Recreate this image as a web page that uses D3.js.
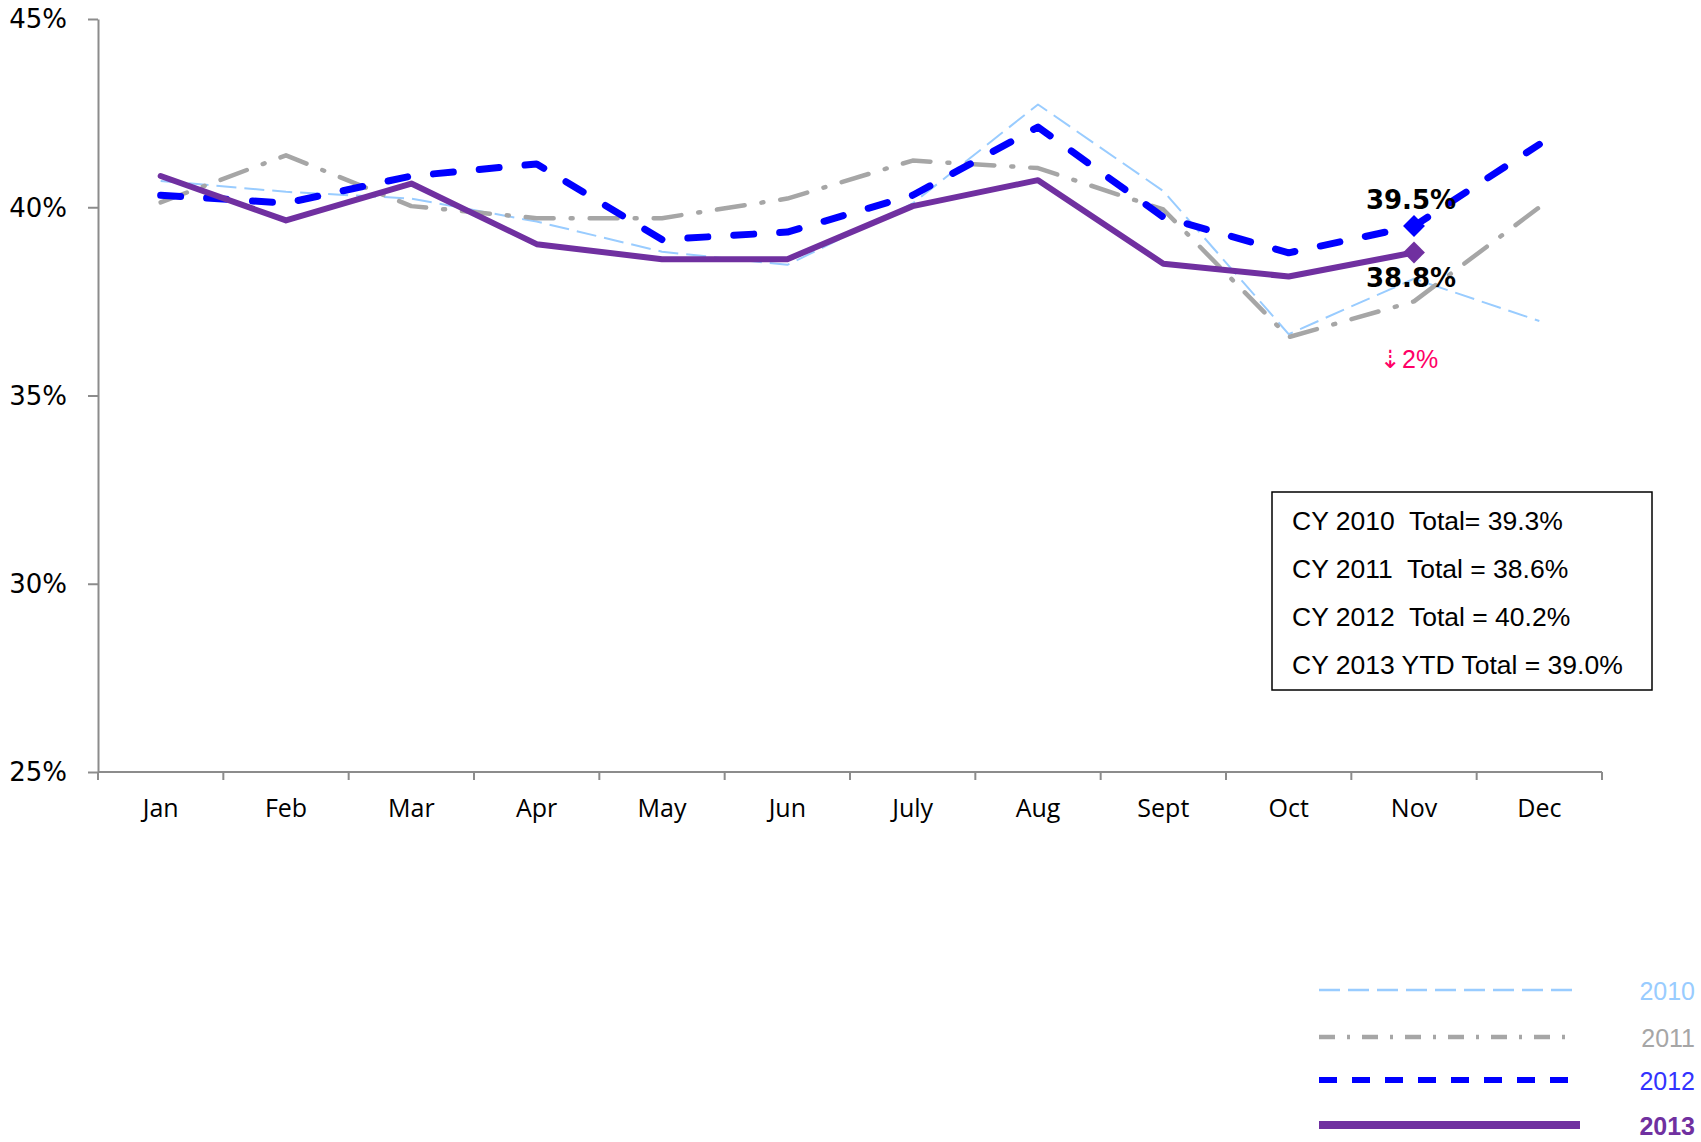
<!DOCTYPE html>
<html>
<head>
<meta charset="utf-8">
<script src="https://cdn.jsdelivr.net/npm/d3@7"></script>
<style>
  html, body { margin: 0; padding: 0; background: #fff; }
  svg { display: block; }
</style>
</head>
<body>
<div id="chart"></div>
<script>
// ---- data ----
var months = ["Jan", "Feb", "Mar", "Apr", "May", "Jun", "July", "Aug", "Sept", "Oct", "Nov", "Dec"];
var yTicks = [25, 30, 35, 40, 45];
var years = ["2010", "2011", "2012", "2013"];

var s2010 = [40.70, 40.41, 40.23, 39.62, 38.82, 38.47, 40.10, 42.73, 40.43, 36.63, 38.10, 36.98];
var s2011 = [40.13, 41.38, 40.03, 39.71, 39.71, 40.23, 41.24, 41.04, 39.94, 36.55, 37.50, 40.00];
var s2012 = [40.32, 40.11, 40.83, 41.15, 39.14, 39.34, 40.32, 42.13, 39.74, 38.79, 39.50, 41.67];
var s2013 = [40.83, 39.65, 40.63, 39.02, 38.62, 38.62, 40.03, 40.72, 38.50, 38.16, 38.80, null];

var totals = ["CY 2010  Total= 39.3%", "CY 2011  Total = 38.6%", "CY 2012  Total = 40.2%", "CY 2013 YTD Total = 39.0%"];
var lastMonth = "Nov";
var changeText = "2%";

// ---- parameters ----
var W = 1701, H = 1142;
var margin = { top: 19, left: 98, right: 99, bottom: 370 };
var plotW = W - margin.left - margin.right;
var plotH = H - margin.top - margin.bottom;

var styles = {
  "2010": { color: "#99CCFF", width: 2, dash: "20,8", cap: "butt", legendDash: "21,8", text: "#99CCFF", weight: "normal" },
  "2011": { color: "#A6A6A6", width: 4.5, dash: "28,17,2,17", cap: "round", legendDash: "16,12,3,12", text: "#A6A6A6", weight: "normal" },
  "2012": { color: "#0000FF", width: 7, dash: "20,26", cap: "round", legendDash: "18,15", text: "#3333FF", weight: "normal" },
  "2013": { color: "#7030A0", width: 6, dash: null, cap: "round", legendDash: null, text: "#7030A0", weight: "bold" }
};
var seriesData = { "2010": s2010, "2011": s2011, "2012": s2012, "2013": s2013 };

var svg = d3.select("#chart").append("svg")
  .attr("width", W)
  .attr("height", H);

var g = svg.append("g")
  .attr("transform", "translate(" + margin.left + "," + margin.top + ")");

// ---- scales ----
var x = d3.scaleBand().domain(months).range([0, plotW]).paddingInner(0).paddingOuter(0);
var y = d3.scaleLinear().domain([25, 45]).range([plotH, 0]);
function cx(m) { return x(m) + x.bandwidth() / 2; }

// ---- axes ----
var axisColor = "#8C8C8C";

var yAxis = d3.axisLeft(y)
  .tickValues(yTicks)
  .tickSize(10)
  .tickSizeOuter(0)
  .tickPadding(21)
  .tickFormat(function(d) { return d + "%"; });

g.append("g")
  .attr("class", "axisY")
  .call(yAxis)
  .call(function(s) {
    s.select(".domain").attr("stroke", axisColor).attr("stroke-width", 2);
    s.selectAll(".tick line").attr("stroke", axisColor).attr("stroke-width", 2);
    s.selectAll(".tick text")
      .style("font-family", "'DejaVu Sans', sans-serif")
      .style("font-size", "26px")
      .attr("dy", "0.34em")
      .attr("fill", "#000");
  });

// x axis: labels centred in bands, ticks on band edges
var xAxis = d3.axisBottom(x).tickSize(0).tickPadding(0);
g.append("g")
  .attr("class", "axisX")
  .attr("transform", "translate(0," + plotH + ")")
  .call(xAxis)
  .call(function(s) {
    s.select(".domain").remove();
    s.selectAll(".tick text")
      .attr("y", 45)
      .attr("dy", 0)
      .style("font-family", "'Open Sans', sans-serif")
      .style("font-size", "25px")
      .attr("fill", "#000");
  });

g.append("line")
  .attr("x1", 0).attr("x2", plotW)
  .attr("y1", plotH).attr("y2", plotH)
  .attr("stroke", axisColor).attr("stroke-width", 2);

g.selectAll(".xtick")
  .data(months.concat(["end"]))
  .enter().append("line")
  .attr("class", "xtick")
  .attr("x1", function(d) { return d === "end" ? plotW : x(d); })
  .attr("x2", function(d) { return d === "end" ? plotW : x(d); })
  .attr("y1", plotH)
  .attr("y2", plotH + 8)
  .attr("stroke", axisColor)
  .attr("stroke-width", 2);

// ---- lines ----
var line = d3.line()
  .defined(function(d) { return d.v != null; })
  .x(function(d) { return cx(d.m); })
  .y(function(d) { return y(d.v); });

years.forEach(function(yr) {
  var st = styles[yr];
  var pts = months.map(function(m, i) { return { m: m, v: seriesData[yr][i] }; });
  g.append("path")
    .datum(pts)
    .attr("fill", "none")
    .attr("stroke", st.color)
    .attr("stroke-width", st.width)
    .attr("stroke-linecap", st.cap)
    .attr("stroke-linejoin", "round")
    .attr("stroke-dasharray", st.dash)
    .attr("d", line);
});

// ---- markers and labels at the last month ----
var iLast = months.indexOf(lastMonth);
var diamond = d3.symbol().type(d3.symbolSquare).size(240);

["2012", "2013"].forEach(function(yr) {
  g.append("path")
    .attr("d", diamond)
    .attr("fill", styles[yr].color)
    .attr("transform", "translate(" + cx(lastMonth) + "," + y(seriesData[yr][iLast]) + ") rotate(45)");
});

g.append("text")
  .attr("x", cx(lastMonth) - 3)
  .attr("y", y(s2012[iLast]) - 17)
  .attr("text-anchor", "middle")
  .style("font-family", "'DejaVu Sans', sans-serif")
  .style("font-weight", "bold")
  .style("font-size", "26px")
  .text(d3.format(".1f")(s2012[iLast]) + "%");

g.append("text")
  .attr("x", cx(lastMonth) - 3)
  .attr("y", y(s2013[iLast]) + 35)
  .attr("text-anchor", "middle")
  .style("font-family", "'DejaVu Sans', sans-serif")
  .style("font-weight", "bold")
  .style("font-size", "26px")
  .text(d3.format(".1f")(s2013[iLast]) + "%");

// change note
g.append("text")
  .attr("x", cx(lastMonth) - 13)
  .attr("y", y(s2013[iLast]) + 116)
  .attr("text-anchor", "end")
  .style("font-family", "'DejaVu Sans', sans-serif")
  .style("font-size", "25px")
  .attr("fill", "#FF0066")
  .text("\u21E3");

g.append("text")
  .attr("x", cx(lastMonth) - 12)
  .attr("y", y(s2013[iLast]) + 116)
  .attr("text-anchor", "start")
  .style("font-family", "'Liberation Sans', Arial, sans-serif")
  .style("font-size", "25px")
  .attr("fill", "#FF0066")
  .text(changeText);

// ---- totals box ----
var box = svg.append("g").attr("transform", "translate(1272,492)");
box.append("rect")
  .attr("width", 380)
  .attr("height", 198)
  .attr("fill", "#fff")
  .attr("stroke", "#000")
  .attr("stroke-width", 1.5);

box.selectAll("text")
  .data(totals)
  .enter().append("text")
  .attr("x", 20)
  .attr("y", function(d, i) { return 38 + i * 48; })
  .attr("xml:space", "preserve")
  .style("white-space", "pre")
  .style("font-family", "'Liberation Sans', Arial, sans-serif")
  .style("font-size", "26.5px")
  .attr("fill", "#000")
  .text(function(d) { return d; });

// ---- legend ----
var legend = svg.append("g")
  .attr("class", "legend")
  .selectAll("g")
  .data(years)
  .enter().append("g")
  .attr("transform", function(d, i) { return "translate(0," + [990, 1037, 1080, 1125][i] + ")"; });

legend.append("line")
  .attr("x1", 1319)
  .attr("x2", function(d) { return d === "2011" ? 1570 : 1580; })
  .attr("y1", 0).attr("y2", 0)
  .attr("stroke", function(d) { return styles[d].color; })
  .attr("stroke-width", function(d) { return d === "2013" ? 8 : d === "2012" ? 6 : d === "2011" ? 4.5 : 2.5; })
  .attr("stroke-dasharray", function(d) { return styles[d].legendDash; });

legend.append("text")
  .attr("x", 1695)
  .attr("y", 10)
  .attr("text-anchor", "end")
  .style("font-family", "'Liberation Sans', Arial, sans-serif")
  .style("font-size", "25px")
  .style("font-weight", function(d) { return styles[d].weight; })
  .attr("fill", function(d) { return styles[d].text; })
  .text(function(d) { return d; });
</script>
</body>
</html>
